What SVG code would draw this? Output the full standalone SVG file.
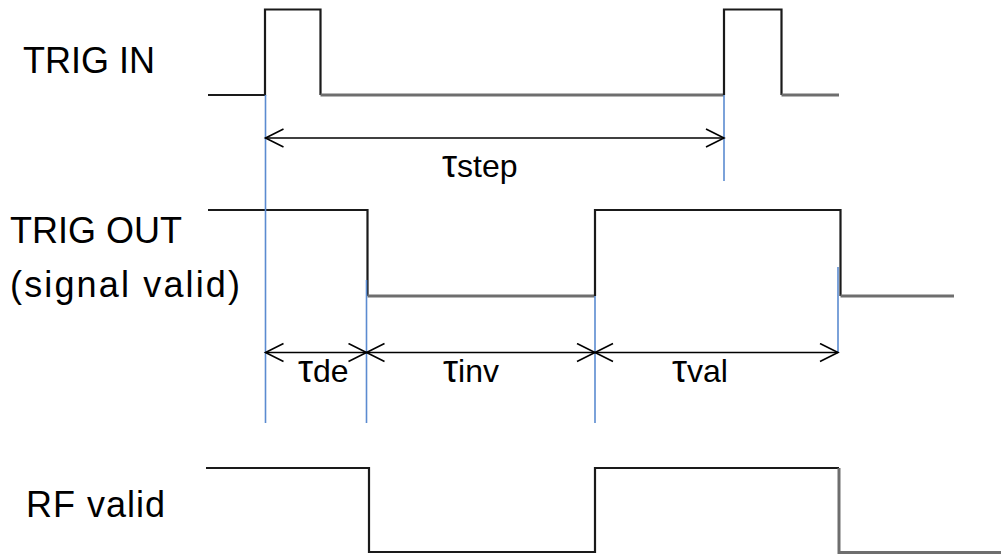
<svg xmlns="http://www.w3.org/2000/svg" width="1001" height="555" viewBox="0 0 1001 555">
<style>
.lbl{font-family:"Liberation Sans",Arial,sans-serif;font-size:36px;fill:#000}
.tau{font-family:"Liberation Sans",Arial,sans-serif;font-size:32px;fill:#000}
.big{font-size:38px}
.wave{fill:none;stroke:#1a1a1a;stroke-width:2.2;stroke-linejoin:miter}
.wave-g{fill:none;stroke:#6e6e6e;stroke-width:3}
.guide{stroke:#5b8bd0;stroke-width:1.6;fill:none}
.dim{stroke:#000;stroke-width:1.6;fill:none;marker-start:url(#chev);marker-end:url(#chev)}
</style>
<defs>
<marker id="chev" markerUnits="userSpaceOnUse" markerWidth="22" markerHeight="22" refX="19" refY="10" orient="auto-start-reverse">
<path d="M1,1 L19,10 L1,19" fill="none" stroke="#000" stroke-width="1.6"/>
</marker>
</defs>
<rect width="1001" height="555" fill="#fff"/>

<g id="trig-in">
<text class="lbl" x="23" y="73">TRIG IN</text>
<path class="wave" d="M208,95 H265 V9.5 H320.5 V95"/>
<path class="wave-g" d="M320.5,95 H724"/>
<path class="wave" d="M724,95 V9.5 H781.5 V95"/>
<path class="wave-g" d="M781.5,95 H839"/>
</g>

<g id="trig-out">
<text class="lbl" x="10" y="243">TRIG OUT</text>
<text class="lbl" x="10" y="297" textLength="230" lengthAdjust="spacing">(signal valid)</text>
<path class="wave" d="M208,210 H367.5 V296"/>
<path class="wave-g" d="M367.5,296 H595"/>
<path class="wave" d="M595,296 V210 H840.5 V296"/>
<path class="wave-g" d="M840.5,296 H954"/>
</g>

<g id="rf-valid">
<text class="lbl" x="26" y="517" textLength="139" lengthAdjust="spacing">RF valid</text>
<path class="wave" d="M206,468 H369 V552 H595 V468 H839"/>
<path class="wave-g" d="M839,468 V552.5 H1001"/>
</g>

<g id="connectors">
<line class="guide" x1="265.5" y1="95" x2="265.5" y2="423"/>
<line class="guide" x1="724" y1="95" x2="724" y2="181"/>
<line class="guide" x1="366.5" y1="280" x2="366.5" y2="423"/>
<line class="guide" x1="595" y1="296" x2="595" y2="423"/>
<line class="guide" x1="838" y1="267" x2="838" y2="353"/>
<line class="dim" x1="265.5" y1="138" x2="724" y2="138"/>
<line class="dim" x1="265.5" y1="352.5" x2="366.5" y2="352.5"/>
<line class="dim" x1="366.5" y1="352.5" x2="595" y2="352.5"/>
<line class="dim" x1="595" y1="352.5" x2="838" y2="352.5"/>
</g>

<g id="labels">
<text class="tau" x="442" y="177"><tspan class="big">τ</tspan>step</text>
<text class="tau" x="298" y="382"><tspan class="big">τ</tspan>de</text>
<text class="tau" x="443" y="382"><tspan class="big">τ</tspan>inv</text>
<text class="tau" x="672" y="382"><tspan class="big">τ</tspan>val</text>
</g>
</svg>
